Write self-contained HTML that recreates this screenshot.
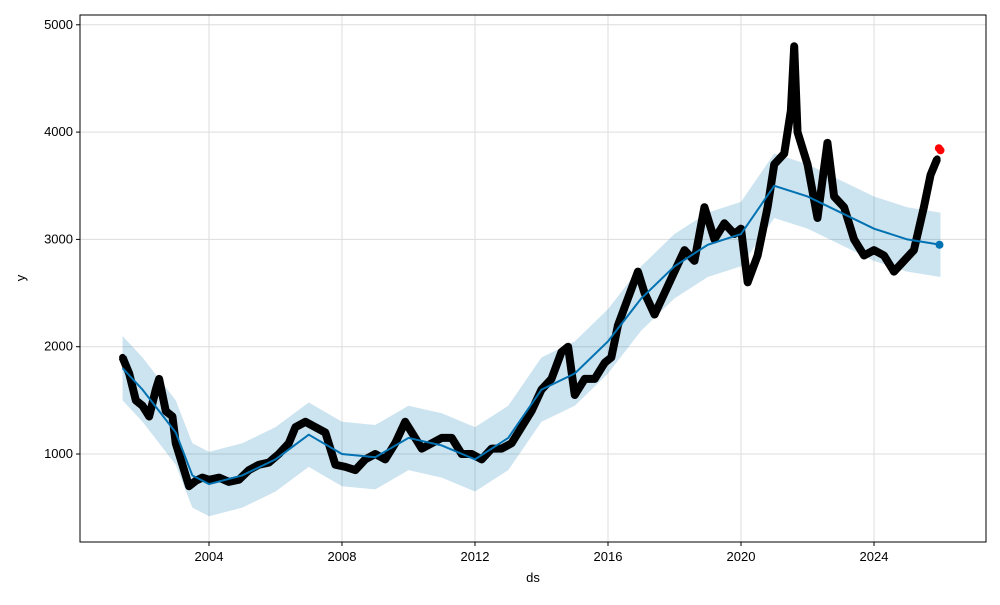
<!DOCTYPE html>
<html><head><meta charset="utf-8"><style>
body{margin:0;background:#fff;}
svg{font-family:"Liberation Sans",sans-serif;}
</style></head><body>
<svg id="chart" width="1000" height="600" viewBox="0 0 1000 600">
<rect x="0" y="0" width="1000" height="600" fill="#fff"/>
<g id="grid"></g>
<g id="band"></g>
<g id="obs"></g>
<g id="fc"></g>
<g id="axes"></g>
<rect x="80" y="15" width="906" height="527" fill="none" stroke="#000" stroke-width="1"/>
<text x="533" y="582" text-anchor="middle" font-size="13">ds</text>
<text x="25" y="278" text-anchor="middle" font-size="13" transform="rotate(-90 25 278)">y</text>
</svg>
<script>
const xTicks=[2004,2008,2012,2016,2020,2024];
const yTicks=[1000,2000,3000,4000,5000];
const obsT=[2001.4,2001.6,2001.8,2002.0,2002.2,2002.4,2002.5,2002.7,2002.9,2003.0,2003.2,2003.4,2003.6,2003.8,2004.0,2004.3,2004.6,2004.9,2005.2,2005.5,2005.8,2006.1,2006.4,2006.6,2006.9,2007.2,2007.5,2007.8,2008.1,2008.4,2008.7,2009.0,2009.3,2009.6,2009.9,2010.1,2010.4,2010.7,2011.0,2011.3,2011.6,2011.9,2012.2,2012.5,2012.8,2013.1,2013.4,2013.7,2014.0,2014.3,2014.6,2014.8,2015.0,2015.3,2015.6,2015.9,2016.1,2016.3,2016.6,2016.9,2017.1,2017.4,2017.7,2018.0,2018.3,2018.6,2018.9,2019.2,2019.5,2019.8,2020.0,2020.2,2020.5,2020.8,2021.0,2021.3,2021.5,2021.6,2021.7,2022.0,2022.3,2022.6,2022.8,2023.1,2023.4,2023.7,2024.0,2024.3,2024.6,2024.9,2025.2,2025.5,2025.7,2025.9];
const obsY=[1900,1750,1500,1450,1350,1600,1700,1400,1350,1100,900,700,750,780,760,780,740,760,850,900,920,1000,1100,1250,1300,1250,1200,900,880,850,950,1000,950,1100,1300,1200,1050,1100,1150,1150,1000,1000,950,1050,1050,1100,1250,1400,1600,1700,1950,2000,1550,1700,1700,1850,1900,2200,2450,2700,2500,2300,2500,2700,2900,2800,3300,3000,3150,3050,3100,2600,2850,3300,3700,3800,4200,4800,4000,3700,3200,3900,3400,3300,3000,2850,2900,2850,2700,2800,2900,3300,3600,3750];
const fcT=[2001.4,2002,2003,2003.5,2004,2005,2006,2007,2008,2009,2010,2011,2012,2013,2014,2015,2016,2017,2018,2019,2020,2021,2022,2023,2024,2025,2026];
const fcY=[1800,1600,1200,800,720,800,950,1180,1000,970,1150,1080,950,1150,1600,1750,2050,2450,2750,2950,3050,3500,3400,3250,3100,3000,2950];
const bandW=[300,300,300,300,300,300,300,300,300,300,300,300,300,300,300,300,300,300,300,300,300,300,300,300,300,300,300];
const futT=[2025.95,2026.0];
const futY=[3850,3830];
const X=t=>209+(t-2004)*33.25;
const Y=v=>454-(v-1000)*0.1073;
const NS="http://www.w3.org/2000/svg";
function mk(tag,attrs,parent){const e=document.createElementNS(NS,tag);for(const k in attrs)e.setAttribute(k,attrs[k]);document.getElementById(parent).appendChild(e);return e;}
xTicks.forEach(t=>{
 const g=mk('line',{x1:X(t),x2:X(t),y1:15,y2:542,stroke:'#ddd','stroke-width':1},'grid');
 
 
 const tk=mk('line',{x1:X(t),x2:X(t),y1:542,y2:546,stroke:'#000'},'axes');
 
 
 const l=mk('text',{x:X(t),y:561,'text-anchor':'middle','font-size':13},'axes');l.textContent=t;
 
 
});
yTicks.forEach(v=>{
 const g=mk('line',{x1:80,x2:986,y1:Y(v),y2:Y(v),stroke:'#ddd','stroke-width':1},'grid');
 
 
 const tk=mk('line',{x1:76,x2:80,y1:Y(v),y2:Y(v),stroke:'#000'},'axes');
 
 
 const l=mk('text',{x:73,y:Y(v)+4,'text-anchor':'end','font-size':13},'axes');l.textContent=v;
 
 
});
let up=fcT.map((t,i)=>X(t)+','+Y(fcY[i]+bandW[i]));
let lo=fcT.map((t,i)=>X(t)+','+Y(fcY[i]-bandW[i])).reverse();
const b=mk('polygon',{points:up.concat(lo).join(' '),fill:'#0072B2','fill-opacity':0.2},'band');


const ol=mk('polyline',{points:obsT.map((t,i)=>X(t)+','+Y(obsY[i])).join(' '),fill:'none',stroke:'#000','stroke-width':8,'stroke-linejoin':'round'},'obs');


obsT.forEach((t,i)=>{const c=mk('circle',{cx:X(t),cy:Y(obsY[i]),r:3.5,fill:'#000'},'obs');
 
 });
const fl=mk('polyline',{points:fcT.map((t,i)=>X(t)+','+Y(fcY[i])).join(' '),fill:'none',stroke:'#0072B2','stroke-width':2},'fc');


const bd=mk('circle',{cx:X(fcT[fcT.length-1])-1,cy:Y(fcY[fcY.length-1]),r:4,fill:'#0072B2'},'fc');


futT.forEach((t,i)=>{const c=mk('circle',{cx:X(t),cy:Y(futY[i]),r:4,fill:'red'},'fc');
 
 });
</script>
</body></html>
